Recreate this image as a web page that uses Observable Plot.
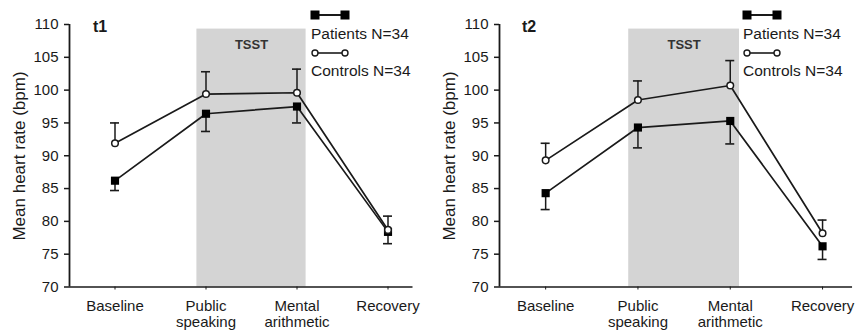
<!DOCTYPE html>
<html><head><meta charset="utf-8">
<script src="https://cdn.jsdelivr.net/npm/d3@7"></script>
<script src="https://cdn.jsdelivr.net/npm/@observablehq/plot@0.6"></script>
<style>
body{margin:0;background:#fff;font-family:"Liberation Sans",Arial,sans-serif;color:#1a1a1a;}
#wrap{position:relative;width:859px;height:331px;overflow:hidden;background:#fff;}
.panel{position:absolute;top:0;width:440px;height:331px;}
.panel svg{max-width:none !important;}
.ylab{position:absolute;white-space:nowrap;font-size:17px;transform:translate(-50%,-50%) rotate(-90deg);}
.leg{position:absolute;white-space:nowrap;font-size:15.5px;line-height:15px;}
.ttl{position:absolute;font-weight:bold;font-size:16px;line-height:16px;}
</style></head><body><div id="wrap"></div>
<script>
// ---- data ----
const phases = ["Baseline", "Public\nspeaking", "Mental\narithmetic", "Recovery"];
const yTicks = [70, 75, 80, 85, 90, 95, 100, 105, 110];
const panelTitles = ["t1", "t2"];
const groupLabels = ["Patients N=34", "Controls N=34"];
const stressPhaseLabel = "TSST";
const stressPhaseSpan = [0.9, 2.1];   // phase-index span of the TSST band
const stressPhaseTop = 109.3;

const t1PatientsMean = [86.2, 96.4, 97.5, 78.4];
const t1PatientsSE   = [1.5, 2.7, 2.5, 1.8];
const t1ControlsMean = [91.9, 99.4, 99.6, 78.7];
const t1ControlsSE   = [3.1, 3.4, 3.6, 2.1];

const t2PatientsMean = [84.3, 94.3, 95.3, 76.2];
const t2PatientsSE   = [2.5, 3.1, 3.5, 2.0];
const t2ControlsMean = [89.3, 98.5, 100.7, 78.2];
const t2ControlsSE   = [2.6, 2.9, 3.8, 2.0];

// ---- drawing ----
const wrap = document.getElementById("wrap");
const ink = "#1a1a1a";

function rows(mean, se, dir) {
  return mean.map((m, i) => ({i, mean: m, end: m + dir * se[i]}));
}

function panel({offset, pxPerPhase, axisTail, patients, controls, title, titleX, legendX}) {
  const ml = 69;
  const width = 440;
  const mr = width - ml - 4 * pxPerPhase;
  const xDomain = [-0.5, 3.5];
  const axisEnd = 3 + axisTail / pxPerPhase;
  const band = [{x1: stressPhaseSpan[0], x2: stressPhaseSpan[1]}];
  const capHalf = 4.5 / pxPerPhase;
  const cap = (d) => [d.i - capHalf, d.i + capHalf];

  const chart = Plot.plot({
    width, height: 331,
    marginLeft: ml, marginRight: mr, marginTop: 24, marginBottom: 44.5,
    style: {fontFamily: '"Liberation Sans", Arial, sans-serif', color: ink, background: "transparent", overflow: "visible", maxWidth: "none"},
    x: {type: "linear", domain: xDomain},
    y: {domain: [70, 110]},
    marks: [
      Plot.rect(band, {x1: "x1", x2: "x2", y1: 70, y2: stressPhaseTop, fill: "#d4d4d4"}),
      Plot.text([stressPhaseLabel], {x: (stressPhaseSpan[0] + stressPhaseSpan[1]) / 2, y: 106.9, text: d => d, fontSize: 13, fontWeight: "bold", fill: "#333"}),
      Plot.ruleX([xDomain[0]], {y1: 70, y2: 110, stroke: ink, strokeWidth: 1.8}),
      Plot.ruleY([70], {x1: xDomain[0], x2: axisEnd, stroke: ink, strokeWidth: 1.6}),
      Plot.axisY({ticks: yTicks, tickSize: 5, tickPadding: 6, fontSize: 15, label: null, tickFormat: d => d, strokeWidth: 1.5}),
      Plot.axisX({ticks: [0, 1, 2, 3], tickFormat: i => phases[i], tickSize: 3, tickPadding: 9, fontSize: 15, lineHeight: 1.1, label: null}),
      // error bars
      Plot.ruleX(controls, {x: "i", y1: "mean", y2: "end", stroke: ink, strokeWidth: 1.5}),
      Plot.ruleY(controls, {y: "end", x1: d => cap(d)[0], x2: d => cap(d)[1], stroke: ink, strokeWidth: 1.6}),
      Plot.ruleX(patients, {x: "i", y1: "mean", y2: "end", stroke: ink, strokeWidth: 1.5}),
      Plot.ruleY(patients, {y: "end", x1: d => cap(d)[0], x2: d => cap(d)[1], stroke: ink, strokeWidth: 1.6}),
      // lines
      Plot.line(controls, {x: "i", y: "mean", stroke: ink, strokeWidth: 1.7}),
      Plot.line(patients, {x: "i", y: "mean", stroke: ink, strokeWidth: 1.7}),
      Plot.dot(patients, {x: "i", y: "mean", symbol: "square", r: 4.6, fill: "#000", stroke: "none"}),
      Plot.dot(controls, {x: "i", y: "mean", symbol: "circle", r: 3.3, fill: "#fff", stroke: ink, strokeWidth: 1.5})
    ]
  });
  const holder = document.createElement("div");
  holder.className = "panel";
  holder.style.left = offset + "px";
  holder.appendChild(chart);
  wrap.appendChild(holder);

  // y axis title
  const yl = document.createElement("div");
  yl.className = "ylab";
  yl.style.left = (offset + 20) + "px";
  yl.style.top = "156px";
  yl.textContent = "Mean heart rate (bpm)";
  wrap.appendChild(yl);

  // panel title
  const t = document.createElement("div");
  t.className = "ttl";
  t.style.left = titleX + "px";
  t.style.top = "19px";
  t.textContent = title;
  wrap.appendChild(t);

  // legend
  const ns = "http://www.w3.org/2000/svg";
  function sym(y, kind) {
    const s = document.createElementNS(ns, "svg");
    s.setAttribute("width", 44); s.setAttribute("height", 12);
    s.style.position = "absolute";
    s.style.left = (legendX - 2) + "px";
    s.style.top = (y - 6) + "px";
    const l = document.createElementNS(ns, "line");
    l.setAttribute("x1", 6); l.setAttribute("x2", 36); l.setAttribute("y1", 6); l.setAttribute("y2", 6);
    l.setAttribute("stroke", ink); l.setAttribute("stroke-width", kind === "sq" ? 2 : 1.6);
    s.appendChild(l);
    for (const cx of [6, 36]) {
      if (kind === "sq") {
        const r = document.createElementNS(ns, "rect");
        r.setAttribute("x", cx - 4.5); r.setAttribute("y", 1.5); r.setAttribute("width", 9); r.setAttribute("height", 9);
        r.setAttribute("fill", "#000");
        s.appendChild(r);
      } else {
        const c = document.createElementNS(ns, "circle");
        c.setAttribute("cx", cx); c.setAttribute("cy", 6); c.setAttribute("r", 3);
        c.setAttribute("fill", "#fff"); c.setAttribute("stroke", ink); c.setAttribute("stroke-width", 1.4);
        s.appendChild(c);
      }
    }
    wrap.appendChild(s);
  }
  sym(15, "sq");
  sym(53, "ci");
  groupLabels.forEach((txt, k) => {
    const d = document.createElement("div");
    d.className = "leg";
    d.style.left = legendX + "px";
    d.style.top = (k === 0 ? 26 : 63) + "px";
    d.textContent = txt;
    wrap.appendChild(d);
  });
}

panel({
  offset: 0, pxPerPhase: 91, axisTail: 25,
  patients: rows(t1PatientsMean, t1PatientsSE, -1),
  controls: rows(t1ControlsMean, t1ControlsSE, 1),
  title: panelTitles[0], titleX: 93, legendX: 311
});
panel({
  offset: 430, pxPerPhase: 92.3, axisTail: 30,
  patients: rows(t2PatientsMean, t2PatientsSE, -1),
  controls: rows(t2ControlsMean, t2ControlsSE, 1),
  title: panelTitles[1], titleX: 522, legendX: 743
});
</script></body></html>
